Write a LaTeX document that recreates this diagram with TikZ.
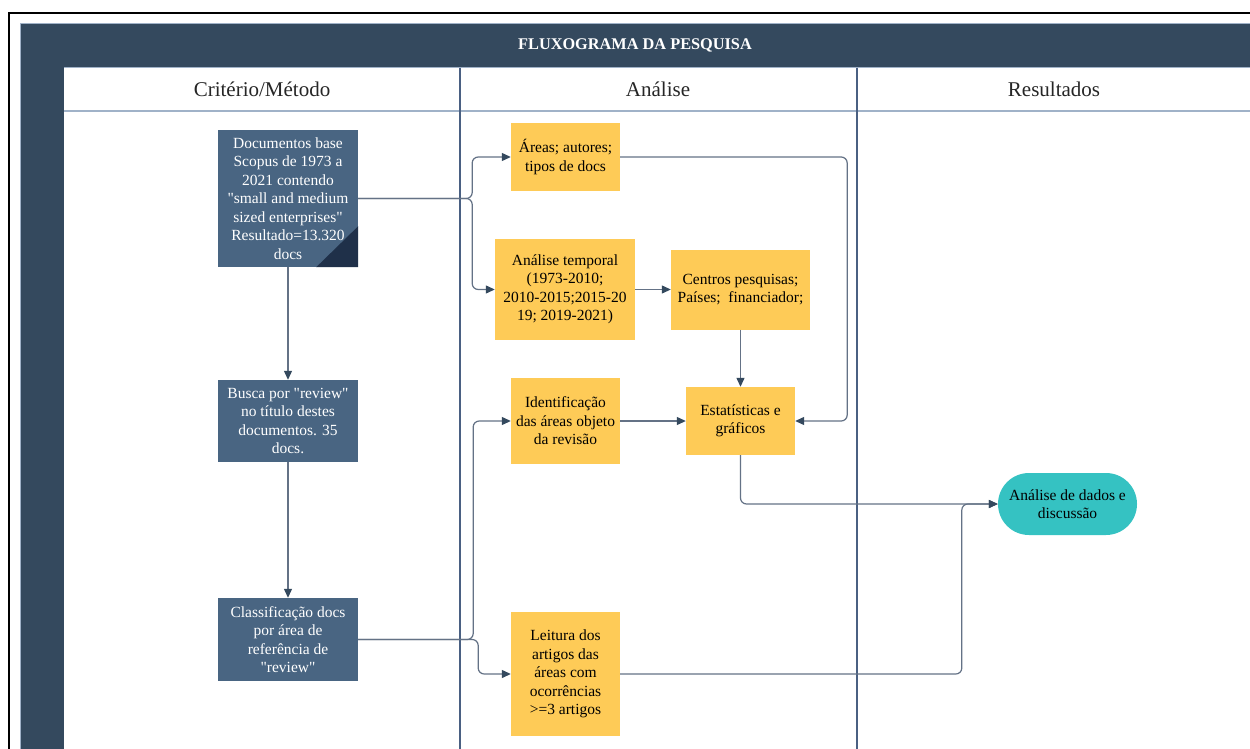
\documentclass[tikz,border=0pt]{standalone}
\usepackage{fontspec}
\setmainfont{Liberation Serif}[Ligatures=TeXOff]
\usetikzlibrary{arrows.meta,calc}
\definecolor{headdark}{RGB}{52,73,94}
\definecolor{boxblue}{RGB}{73,101,130}
\definecolor{folddark}{RGB}{31,48,73}
\definecolor{boxyellow}{RGB}{254,203,87}
\definecolor{teal}{RGB}{53,194,194}
\definecolor{linegray}{RGB}{100,114,134}
\definecolor{arrowdark}{RGB}{52,73,94}
\definecolor{colline}{RGB}{74,96,130}
\definecolor{lightline}{RGB}{160,178,200}
\tikzset{
  base/.style={inner sep=0pt, align=center, font=\fontsize{15.5}{18.5}\selectfont},
  dbox/.style={base, fill=boxblue, text=white},
  ybox/.style={base, fill=boxyellow, text=black},
  tbox/.style={base, fill=teal, text=black, rounded corners=31pt},
  conn/.style={draw=linegray, line width=1.2pt, rounded corners=6pt,
    -{Triangle[length=9pt,width=8pt,color=arrowdark]}},
  colhead/.style={inner sep=0pt, font=\fontsize{21}{24}\selectfont, text=black!85},
}
\begin{document}
\begin{tikzpicture}[x=1pt,y=-1pt]
\useasboundingbox (0,0) rectangle (1250,749);
\clip (0,0) rectangle (1250,749);
\fill[white] (0,0) rectangle (1250,749);
% frame and pool
\draw[black, line width=2pt] (9,13) rectangle (1270,770);
\fill[headdark] (20,23) rectangle (1270,770);
\draw[lightline, line width=0.8pt] (20,770) -- (20,23) -- (1270,23);
\fill[white] (64,68) rectangle (1270,770);
\draw[lightline, line width=1pt] (64,68) -- (1270,68);
\draw[lightline, line width=1.2pt] (64,111) -- (1270,111);
\draw[colline, line width=1.5pt] (460,68) -- (460,770);
\draw[colline, line width=1.5pt] (857,68) -- (857,770);
\node[inner sep=0pt, text=white, font=\fontsize{16.3}{18}\selectfont\bfseries] (title) at (635,45) {FLUXOGRAMA DA PESQUISA};
\node[colhead] (h1) at (262,89) {Critério/Método};
\node[colhead] (h2) at (658,89) {Análise};
\node[colhead] (h3) at (1054,89) {Resultados};
% nodes
\node[dbox, minimum width=140, minimum height=137] (n1) at (288,198.5) {};
\fill[folddark] (n1.south east) -- ([xshift=-42pt]n1.south east) -- ([yshift=41pt]n1.south east) -- cycle;
\node[base, text=white] (n1t) at (288,198.5) {Documentos base\\Scopus de 1973 a\\2021 contendo\\"small and medium\\sized enterprises"\\Resultado=13.320\\docs};
\node[dbox, minimum width=140, minimum height=82] (n2) at (288,421) {Busca por "review"\\no título destes\\documentos. 35\\docs.};
\node[dbox, minimum width=140, minimum height=83] (n3) at (288,639.5) {Classificação docs\\por área de\\referência de\\"review"};
\node[ybox, minimum width=109, minimum height=68] (a1) at (565.5,157) {Áreas; autores;\\tipos de docs};
\node[ybox, minimum width=140, minimum height=101] (a2) at (565,289.5) {Análise temporal\\(1973-2010;\\2010-2015;2015-20\\19; 2019-2021)};
\node[ybox, minimum width=139, minimum height=80] (a3) at (740.5,289.5) {Centros pesquisas;\\Países;\ \ financiador;};
\node[ybox, minimum width=109, minimum height=86] (a4) at (565.5,421) {Identificação\\das áreas objeto\\da revisão};
\node[ybox, minimum width=109, minimum height=68] (a5) at (740.5,421) {Estatísticas e\\gráficos};
\node[ybox, minimum width=109, minimum height=124] (a6) at (565.5,674) {Leitura dos\\artigos das\\áreas com\\ocorrências\\>=3 artigos};
\node[tbox, minimum width=139, minimum height=62] (r1) at (1067.5,504) {Análise de dados e\\discussão};
% connectors
\draw[conn] (n1.east) -- ([xshift=114pt]n1.east) |- (a1.west);
\draw[conn] (n1.east) -- ([xshift=114pt]n1.east) |- (a2.west);
\draw[conn] (n1.south) -- (n2.north);
\draw[conn] (n2.south) -- (n3.north);
\draw[conn] (n3.east) -- ([xshift=115pt]n3.east) |- (a4.west);
\draw[conn] (n3.east) -- ([xshift=120pt]n3.east) |- (a6.west);
\draw[conn] (a1.east) -| ([xshift=52pt]a5.east) -- (a5.east);
\draw[conn] (a2.east) -- (a3.west);
\draw[conn] (a3.south) -- (a5.north);
\draw[conn] (a4.east) -- (a5.west);
\draw[conn] (a5.south) |- (r1.west);
\draw[conn] (a6.east) -| ([xshift=-36pt]r1.west) -- (r1.west);
\end{tikzpicture}
\end{document}
